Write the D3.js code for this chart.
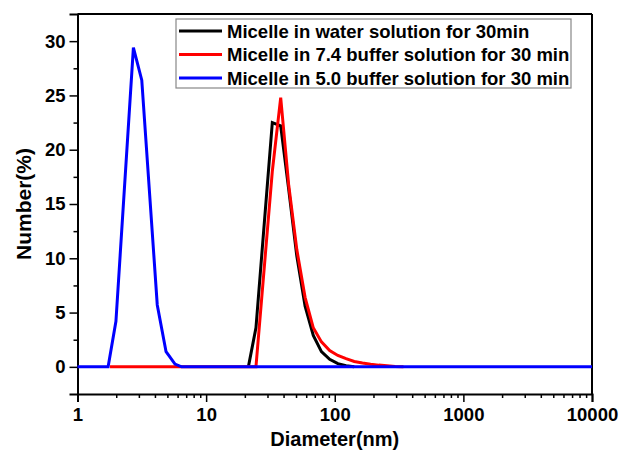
<!DOCTYPE html>
<html><head><meta charset="utf-8">
<script src="https://cdnjs.cloudflare.com/ajax/libs/d3/7.8.5/d3.min.js"></script>
<style>body{margin:0;background:#fff}svg{display:block}text{font-family:"Liberation Sans",Arial,sans-serif;font-weight:bold}</style>
</head><body><svg id="c" width="620" height="451"></svg>
<script>
const seriesNames = ["Micelle in water solution for 30min","Micelle in 7.4 buffer solution for 30 min","Micelle in 5.0 buffer solution for 30 min"];
const seriesColors = ["#000000","#ff0000","#0000ff"];
const waterX = [21.3,24.4,32.7,38.0,43.8,50.7,58.8,68.1,78.8,91.3,105.7,122.4,141.8];
const waterY = [0,3.6,22.5,22.2,16.4,10.2,5.6,2.9,1.4,0.7,0.3,0.1,0];
const buf74X = [1.79,24.4,32.7,38.0,43.8,50.7,58.8,68.1,78.8,91.3,105.7,122.4,141.8,164.2,190,220,255,295,342];
const buf74Y = [0,0,18.0,24.8,16.8,10.8,6.4,3.6,2.3,1.5,1.05,0.75,0.5,0.36,0.25,0.16,0.1,0.04,0];
const buf50X = [1,1.73,1.99,2.72,3.16,4.17,4.88,5.73,6.45,10000];
const buf50Y = [0,0,4.2,29.4,26.4,5.7,1.4,0.25,0,0];
const xTicks = [1,10,100,1000,10000];
const yTicks = [0,5,10,15,20,25,30];

const svg = d3.select("#c");
const L=77.5,R=592,T=14,B=394;
const x = d3.scaleLog().domain([1,10000]).range([L,R]);
const y = d3.scaleLinear().domain([-2.5,32.5]).range([B,T]);

// minor x ticks
const minorX=[];
for(let d=1; d<10000; d*=10) for(let k=2;k<=9;k++) minorX.push(d*k);
svg.append("g").attr("transform",`translate(0,${B})`)
  .call(d3.axisBottom(x).tickValues(minorX).tickSize(4).tickFormat(""))
  .call(g=>{g.select(".domain").remove(); g.selectAll("line").attr("stroke","#000").attr("stroke-width",1.5);});
svg.append("g").attr("transform",`translate(0,${B})`)
  .call(d3.axisBottom(x).tickValues(xTicks).tickSize(8).tickPadding(6).tickFormat(d3.format("d")))
  .call(g=>{g.select(".domain").attr("stroke","#000").attr("stroke-width",2);
    g.selectAll("line").attr("stroke","#000").attr("stroke-width",1.5);
    g.selectAll("text").attr("font-size",18.5).attr("fill","#000").attr("font-family","Liberation Sans, Arial, sans-serif").attr("font-weight","bold");});

const minorY=[2.5,7.5,12.5,17.5,22.5,27.5];
svg.append("g").attr("transform",`translate(${L},0)`)
  .call(d3.axisLeft(y).tickValues(minorY).tickSize(4).tickFormat(""))
  .call(g=>{g.select(".domain").remove(); g.selectAll("line").attr("stroke","#000").attr("stroke-width",1.5);});
svg.append("g").attr("transform",`translate(${L},0)`)
  .call(d3.axisLeft(y).tickValues(yTicks).tickSize(8).tickPadding(4))
  .call(g=>{g.select(".domain").attr("stroke","#000").attr("stroke-width",2);
    g.selectAll("line").attr("stroke","#000").attr("stroke-width",1.5);
    g.selectAll("text").attr("font-size",18.5).attr("fill","#000").attr("font-family","Liberation Sans, Arial, sans-serif").attr("font-weight","bold");});

// top & right border
svg.append("line").attr("x1",L).attr("x2",R).attr("y1",T).attr("y2",T).attr("stroke","#000").attr("stroke-width",2);
svg.append("line").attr("x1",R).attr("x2",R).attr("y1",T).attr("y2",B).attr("stroke","#000").attr("stroke-width",2);

const line = d3.line().x(d=>x(d[0])).y(d=>y(d[1]));
const data = [d3.zip(waterX,waterY), d3.zip(buf74X,buf74Y), d3.zip(buf50X,buf50Y)];
data.forEach((d,i)=>{
  svg.append("path").datum(d).attr("d",line).attr("fill","none")
    .attr("stroke",seriesColors[i]).attr("stroke-width",3).attr("stroke-linejoin","miter");
});

// legend
const lg = svg.append("g");
lg.append("rect").attr("x",176).attr("y",19).attr("width",395).attr("height",69)
  .attr("fill","#fff").attr("stroke","#888").attr("stroke-width",1.2);
seriesNames.forEach((n,i)=>{
  const yy = 31+i*23.5;
  lg.append("line").attr("x1",179).attr("x2",222).attr("y1",yy).attr("y2",yy)
    .attr("stroke",seriesColors[i]).attr("stroke-width",3);
  lg.append("text").attr("x",227).attr("y",yy+6.5).attr("font-size",18.5).attr("fill","#000").text(n);
});

// axis titles
svg.append("text").attr("x",(L+R)/2).attr("y",446).attr("text-anchor","middle").attr("font-size",20).text("Diameter(nm)");
svg.append("text").attr("transform",`translate(31,${(T+B)/2}) rotate(-90)`).attr("text-anchor","middle").attr("font-size",21).text("Number(%)");
</script></body></html>
